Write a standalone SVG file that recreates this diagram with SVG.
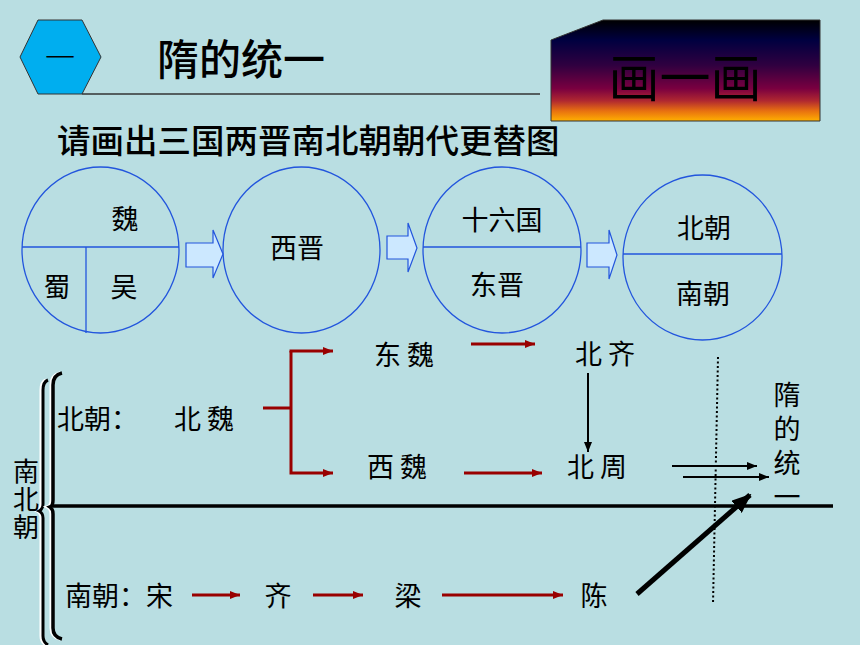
<svg xmlns="http://www.w3.org/2000/svg" width="860" height="645" viewBox="0 0 860 645">
<defs>
<linearGradient id="sunset" x1="0" y1="0" x2="0" y2="1">
<stop offset="0" stop-color="#000000"/>
<stop offset="0.2" stop-color="#000040"/>
<stop offset="0.45" stop-color="#300040"/>
<stop offset="0.68" stop-color="#7A0040"/>
<stop offset="0.8" stop-color="#B02830"/>
<stop offset="0.9" stop-color="#E87010"/>
<stop offset="1" stop-color="#FFB000"/>
</linearGradient>
<marker id="redHead" viewBox="0 0 10 8" refX="10" refY="4" markerWidth="10" markerHeight="8" markerUnits="userSpaceOnUse" orient="auto">
<path d="M0,0 L10,4 L0,8 Z" fill="#990000"/>
</marker>
<marker id="blackHead" viewBox="0 0 10 8" refX="10" refY="4" markerWidth="10" markerHeight="8" markerUnits="userSpaceOnUse" orient="auto">
<path d="M0,0 L10,4 L0,8 Z" fill="#000000"/>
</marker>
<marker id="bigHead" viewBox="0 0 20 16" refX="18" refY="8" markerWidth="20" markerHeight="16" markerUnits="userSpaceOnUse" orient="auto">
<path d="M0,0 L20,8 L0,16 Z" fill="#000000"/>
</marker>
</defs>
<style>
.cjk{font-family:"Noto Sans CJK SC","Noto Sans CJK TC",sans-serif;fill:#000;dominant-baseline:central}
.mid{text-anchor:middle}
.vert{font-family:"Noto Sans CJK SC","Noto Sans CJK TC",sans-serif;fill:#000;writing-mode:vertical-rl;text-orientation:upright}
.circ{fill:none;stroke:#2255DD;stroke-width:1.3}
.div{stroke:#2255DD;stroke-width:1.3}
.blk{fill:#CCE8FF;stroke:#2255DD;stroke-width:1.2}
.red{stroke:#990000;stroke-width:3;fill:none}
.bl{stroke:#000;stroke-width:2;fill:none}
.lbl{font-size:27px}
.cl{font-size:27px}
</style>
<rect x="0" y="0" width="860" height="645" fill="#B9DEE2"/>

<g id="header">
<polygon points="20,57 38,20 82,20 101,57 82,94 38,94" fill="#00AEEF" stroke="#333" stroke-width="1"/>
<text class="cjk mid" x="60" y="55" font-size="30" font-weight="300">一</text>
<text class="cjk" x="157" y="56" font-size="42" font-weight="500">隋的统一</text>
<line x1="82" y1="94" x2="540" y2="94" stroke="#333" stroke-width="1.5"/>
</g>

<g id="draw-box">
<polygon points="551,40 603,20 820,20 820,121 551,121" fill="url(#sunset)" stroke="#333" stroke-width="1"/>
<text class="cjk mid" x="685" y="75" font-size="51" fill="#111">画一画</text>
</g>

<text class="cjk" x="57" y="138" font-size="33.5" font-weight="500">请画出三国两晋南北朝朝代更替图</text>

<g id="sanguo">
<ellipse class="circ" cx="100.5" cy="250" rx="78.5" ry="83"/>
<line class="div" x1="22" y1="247" x2="179" y2="247"/>
<line class="div" x1="86" y1="247" x2="86" y2="333"/>
<text class="cjk mid cl" x="125" y="217">魏</text>
<text class="cjk mid cl" x="57" y="285">蜀</text>
<text class="cjk mid cl" x="124" y="285">吴</text>
</g>

<g id="xijin">
<ellipse class="circ" cx="301.5" cy="250" rx="78.5" ry="83"/>
<text class="cjk mid cl" x="297" y="246">西晋</text>
</g>

<g id="dongjin">
<ellipse class="circ" cx="502" cy="250" rx="79" ry="83"/>
<line class="div" x1="423" y1="247" x2="581" y2="247"/>
<text class="cjk mid cl" x="502" y="218">十六国</text>
<text class="cjk mid cl" x="497" y="283">东晋</text>
</g>

<g id="nanbeichao">
<ellipse class="circ" cx="702.5" cy="257.5" rx="79.5" ry="82.5"/>
<line class="div" x1="623" y1="254" x2="782" y2="254"/>
<text class="cjk mid cl" x="704" y="226">北朝</text>
<text class="cjk mid cl" x="703" y="292">南朝</text>
</g>

<g id="block-arrows">
<polygon class="blk" points="186,243 213,243 213,230 223,254 213,278 213,267 186,267"/>
<polygon class="blk" points="387,236 408,236 408,223 417,248 408,272 408,259 387,259"/>
<polygon class="blk" points="587,243 609,243 609,230 617,255 609,279 609,267 587,267"/>
</g>

<g id="braces">
<path d="M46,380 Q41,382 41,390 L41,504 Q41,509 37,511 Q41,513 41,518 L41,636 Q41,642 46,645" fill="none" stroke="#fff" stroke-width="3"/>
<path d="M48,380 Q43,382 43,390 L43,504 Q43,509 39,511 Q43,513 43,518 L43,636 Q43,642 48,645" fill="none" stroke="#000" stroke-width="3"/>
<path d="M60,373 Q51,375 51,385 L51,500 Q51,506 47,507 Q51,509 51,514 L51,628 Q51,637 60,639" fill="none" stroke="#fff" stroke-width="3"/>
<path d="M62,373 Q53,375 53,385 L53,500 Q53,506 50,507 Q53,509 53,514 L53,628 Q53,637 62,639" fill="none" stroke="#000" stroke-width="3.5"/>
<text class="vert" x="26" y="458" font-size="26" letter-spacing="2">南北朝</text>
</g>

<g id="beichao-row">
<text class="cjk lbl" x="57" y="417">北朝：</text>
<text class="cjk lbl mid" x="204" y="417">北 魏</text>
<text class="cjk lbl mid" x="404" y="353">东 魏</text>
<text class="cjk lbl mid" x="397" y="465">西 魏</text>
<text class="cjk lbl mid" x="605" y="352">北 齐</text>
<text class="cjk lbl mid" x="597" y="465">北 周</text>
</g>

<g id="nanchao-row">
<text class="cjk lbl" x="65" y="594">南朝：宋</text>
<text class="cjk lbl mid" x="278" y="594">齐</text>
<text class="cjk lbl mid" x="408" y="594">梁</text>
<text class="cjk lbl mid" x="594" y="594">陈</text>
</g>

<g id="sui">
<text class="vert" x="787" y="381" font-size="27" letter-spacing="7">隋的统一</text>
</g>

<g id="connectors">
<line x1="53" y1="506" x2="833" y2="506" stroke="#000" stroke-width="3.5"/>
<polyline class="red" points="263,408 291,408"/>
<polyline class="red" points="291,351 291,473 333,473" marker-end="url(#redHead)"/>
<line class="red" x1="289.5" y1="351" x2="333" y2="351" marker-end="url(#redHead)"/>
<line class="red" x1="471" y1="344" x2="535" y2="344" marker-end="url(#redHead)"/>
<line class="red" x1="464" y1="473" x2="542" y2="473" marker-end="url(#redHead)"/>
<line class="red" x1="192" y1="595" x2="240" y2="595" marker-end="url(#redHead)"/>
<line class="red" x1="313" y1="595" x2="363" y2="595" marker-end="url(#redHead)"/>
<line class="red" x1="442" y1="595" x2="563" y2="595" marker-end="url(#redHead)"/>
<line class="bl" x1="588" y1="373" x2="588" y2="452" marker-end="url(#blackHead)"/>
<line class="bl" x1="672" y1="466" x2="757" y2="466" marker-end="url(#blackHead)"/>
<line class="bl" x1="683" y1="477" x2="769" y2="477" marker-end="url(#blackHead)"/>
<line x1="718" y1="357" x2="713" y2="604" stroke="#000" stroke-width="2" stroke-dasharray="2,2.5"/>
<line x1="637" y1="594" x2="750" y2="495" stroke="#000" stroke-width="5" marker-end="url(#bigHead)"/>
</g>
</svg>
